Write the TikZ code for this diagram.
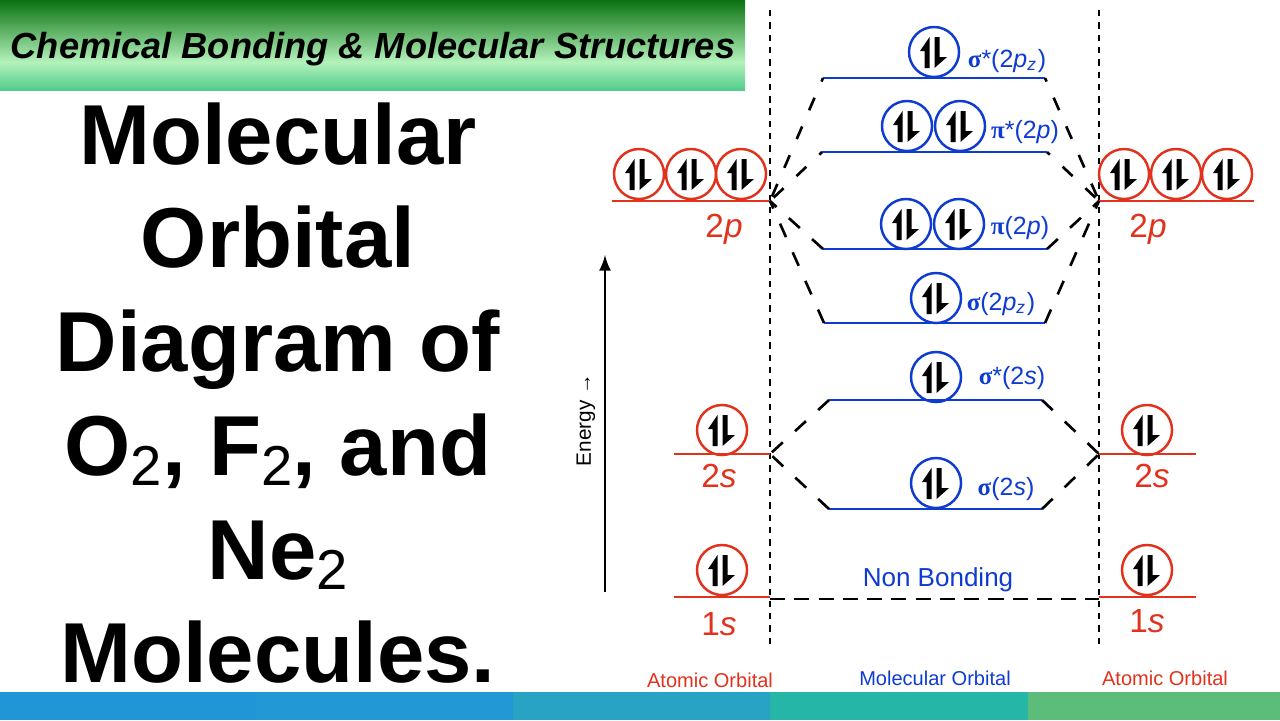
\documentclass[tikz,border=0pt]{standalone}
\usepackage{fontspec}
\usepackage{xcolor}
\setmainfont{Liberation Sans}
\newfontfamily\greekfont{Liberation Serif}
\usetikzlibrary{positioning}
\definecolor{aored}{HTML}{E0321C}
\definecolor{mosblue}{HTML}{0F3CD0}
\definecolor{banddark}{HTML}{0A7210}
\definecolor{bandlight}{HTML}{B4F2BC}
\definecolor{bandlow}{HTML}{50CC8C}
\newcommand{\sigmab}{{\greekfont\bfseries σ}}
\newcommand{\pib}{{\greekfont\bfseries π}}
\newcommand{\subtwo}{\raisebox{-0.125em}{\fontsize{16}{16}\selectfont\mdseries 2}}
\tikzset{
  spins/.style={path picture={
    \fill[black,shift={(path picture bounding box.center)}] (-4.5,-15) -- (-14,-1) -- (-9.5,-1) -- (-9.5,16) -- (-4.5,16) -- cycle;
    \fill[black,shift={(path picture bounding box.center)}] (0.5,-15) -- (5.5,-15) -- (5.5,5) -- (13,5) -- (0.5,16) -- cycle;
  }},
  aoorb/.style={circle,draw=aored,line width=0.7pt,minimum size=0.5cm,inner sep=0pt,spins},
  moorb/.style={circle,draw=mosblue,line width=0.7pt,minimum size=0.5cm,inner sep=0pt,spins},
  aolevel/.style={draw=aored,line width=0.75pt},
  molevel/.style={draw=mosblue,line width=0.75pt},
  aolabel/.style={text=aored,font=\fontsize{9.5}{11}\selectfont},
  molabel/.style={text=mosblue,font=\fontsize{7.1}{9}\selectfont},
  caption/.style={font=\fontsize{5.7}{7}\selectfont},
  corrup/.style={black,line width=0.75pt,dash pattern=on 3.9pt off 5pt,dash phase=2.8pt},
  corrlow/.style={black,line width=0.75pt,dash pattern=on 4.2pt off 4.7pt},
  divider/.style={black,line width=0.7pt,dash pattern=on 1.8pt off 1.7pt},
}
\begin{document}
\begin{tikzpicture}[x=0.01cm,y=-0.01cm]
    \useasboundingbox (0,0) rectangle (1280,720);

    % Title band
    \fill[top color=banddark,bottom color=bandlight,draw=none] (0,0) rectangle (745,62);
    \fill[top color=bandlight,bottom color=bandlow,draw=none] (0,62) rectangle (745,90);
    \node[font=\fontsize{10.3}{12}\selectfont\bfseries\itshape] (band) at (373,49) {Chemical Bonding \& Molecular Structures};

    % Big heading
    \node[align=center,font=\fontsize{24.2}{29.5}\selectfont\bfseries] (heading) at (278,393)
        {Molecular\\Orbital\\Diagram of\\O\subtwo, F\subtwo, and\\Ne\subtwo\\Molecules.};

    % Bottom bar
    \fill[color={rgb,255:red,32;green,150;blue,214}] (0,692) rectangle (256,720);
    \fill[color={rgb,255:red,34;green,152;blue,212}] (256,692) rectangle (513,720);
    \fill[color={rgb,255:red,41;green,163;blue,196}] (513,692) rectangle (770,720);
    \fill[color={rgb,255:red,38;green,182;blue,168}] (770,692) rectangle (1028,720);
    \fill[color={rgb,255:red,92;green,188;blue,122}] (1028,692) rectangle (1280,720);

    % Dotted dividers
    \coordinate (divAtop) at (770,10);
    \coordinate (divAbot) at (770,645);
    \coordinate (divBtop) at (1099,10);
    \coordinate (divBbot) at (1099,645);
    \draw[divider] (divAtop) -- (divAbot);
    \draw[divider] (divBtop) -- (divBbot);

    % Energy axis
    \coordinate (axisbot) at (605,592);
    \coordinate (axistop) at (605,255);
    \draw[-latex,line width=0.55pt] (axisbot) -- (axistop);
    \node[rotate=90,font=\fontsize{5.9}{8}\selectfont] (energy) at (586,420) {Energy →};

    % Atomic levels, left
    \coordinate (LpA) at (612,201); \coordinate (Lp) at (770,201);
    \coordinate (LsA) at (674,454); \coordinate (Ls) at (770,454);
    \coordinate (LcA) at (674,597); \coordinate (Lc) at (770,597);
    \draw[aolevel] (LpA) -- (Lp);
    \draw[aolevel] (LsA) -- (Ls);
    \draw[aolevel] (LcA) -- (Lc);
    % Atomic levels, right
    \coordinate (Rp) at (1099,201); \coordinate (RpB) at (1254,201);
    \coordinate (Rs) at (1099,454); \coordinate (RsB) at (1196,454);
    \coordinate (Rc) at (1099,597); \coordinate (RcB) at (1196,597);
    \draw[aolevel] (Rp) -- (RpB);
    \draw[aolevel] (Rs) -- (RsB);
    \draw[aolevel] (Rc) -- (RcB);

    % Molecular levels
    \coordinate (sp1) at (823,78);  \coordinate (sp2) at (1045,78);
    \coordinate (pp1) at (822,152); \coordinate (pp2) at (1047,152);
    \coordinate (pb1) at (823,249); \coordinate (pb2) at (1047,249);
    \coordinate (sb1) at (824,323); \coordinate (sb2) at (1045,323);
    \coordinate (ss1) at (829,400); \coordinate (ss2) at (1042,400);
    \coordinate (sa1) at (829,509); \coordinate (sa2) at (1042,509);
    \draw[molevel] (sp1) -- (sp2);
    \draw[molevel] (pp1) -- (pp2);
    \draw[molevel] (pb1) -- (pb2);
    \draw[molevel] (sb1) -- (sb2);
    \draw[molevel] (ss1) -- (ss2);
    \draw[molevel] (sa1) -- (sa2);

    % Correlation lines
    \draw[corrup] (sp1) -- (Lp);
    \draw[corrup] (pp1) -- (Lp);
    \draw[corrlow] (pb1) -- (Lp);
    \draw[corrlow] (sb1) -- (Lp);
    \draw[corrup] (sp2) -- (Rp);
    \draw[corrup] (pp2) -- (Rp);
    \draw[corrlow] (pb2) -- (Rp);
    \draw[corrlow] (sb2) -- (Rp);
    \draw[corrlow] (ss1) -- (Ls);
    \draw[corrlow] (sa1) -- (Ls);
    \draw[corrlow] (ss2) -- (Rs);
    \draw[corrlow] (sa2) -- (Rs);
    \coordinate (nbL) at (770,599);
    \coordinate (nbR) at (1099,599);
    \draw[black,line width=0.7pt,dash pattern=on 4.3pt off 2.6pt] (nbL) -- (nbR);

    % Atomic orbitals
    \node[aoorb] (Lp1) at (639,174) {};
    \node[aoorb] (Lp2) at (691,174) {};
    \node[aoorb] (Lp3) at (741,174) {};
    \node[aoorb] (Rp1) at (1124,174) {};
    \node[aoorb] (Rp2) at (1176,174) {};
    \node[aoorb] (Rp3) at (1227,174) {};
    \node[aoorb] (Ls1) at (722,430) {};
    \node[aoorb] (Lc1) at (722,570) {};
    \node[aoorb] (Rs1) at (1147,430) {};
    \node[aoorb] (Rc1) at (1147,570) {};

    % Molecular orbitals
    \node[moorb] (sp) at (934,52) {};
    \node[moorb] (pp1o) at (907,126) {};
    \node[moorb] (pp2o) at (960,126) {};
    \node[moorb] (pb1o) at (906,224) {};
    \node[moorb] (pb2o) at (959,224) {};
    \node[moorb] (sb) at (936,298) {};
    \node[moorb] (ss) at (936,377) {};
    \node[moorb] (sa) at (936,483) {};

    % Labels
    \node[aolabel] (Lplab) at (724,229) {2\textit{p}};
    \node[aolabel] (Rplab) at (1148,229) {2\textit{p}};
    \node[aolabel] (Lslab) at (719,476) {2\textit{s}};
    \node[aolabel] (Rslab) at (1152,476) {2\textit{s}};
    \node[aolabel] (Lclab) at (719,624) {1\textit{s}};
    \node[aolabel] (Rclab) at (1147,621) {1\textit{s}};
    \node[molabel] (splab) at (1007,61) {\sigmab*(2\textit{p}\textsubscript{\textit{z}})};
    \node[molabel] (pplab) at (1025,132) {\pib*(2\textit{p})};
    \node[molabel] (pblab) at (1020,228) {\pib(2\textit{p})};
    \node[molabel] (sblab) at (1001,304) {\sigmab(2\textit{p}\textsubscript{\textit{z}})};
    \node[molabel] (sslab) at (1012,378) {\sigmab*(2\textit{s})};
    \node[molabel] (salab) at (1006,489) {\sigmab(2\textit{s})};
    \node[text=mosblue,font=\fontsize{7.4}{9}\selectfont] (nonbond) at (938,580) {Non Bonding};
    \node[caption,text=aored] (capL) at (710,680) {Atomic Orbital};
    \node[caption,text=mosblue] (capM) at (935,678) {Molecular Orbital};
    \node[caption,text=aored] (capR) at (1165,678) {Atomic Orbital};
\end{tikzpicture}
\end{document}
